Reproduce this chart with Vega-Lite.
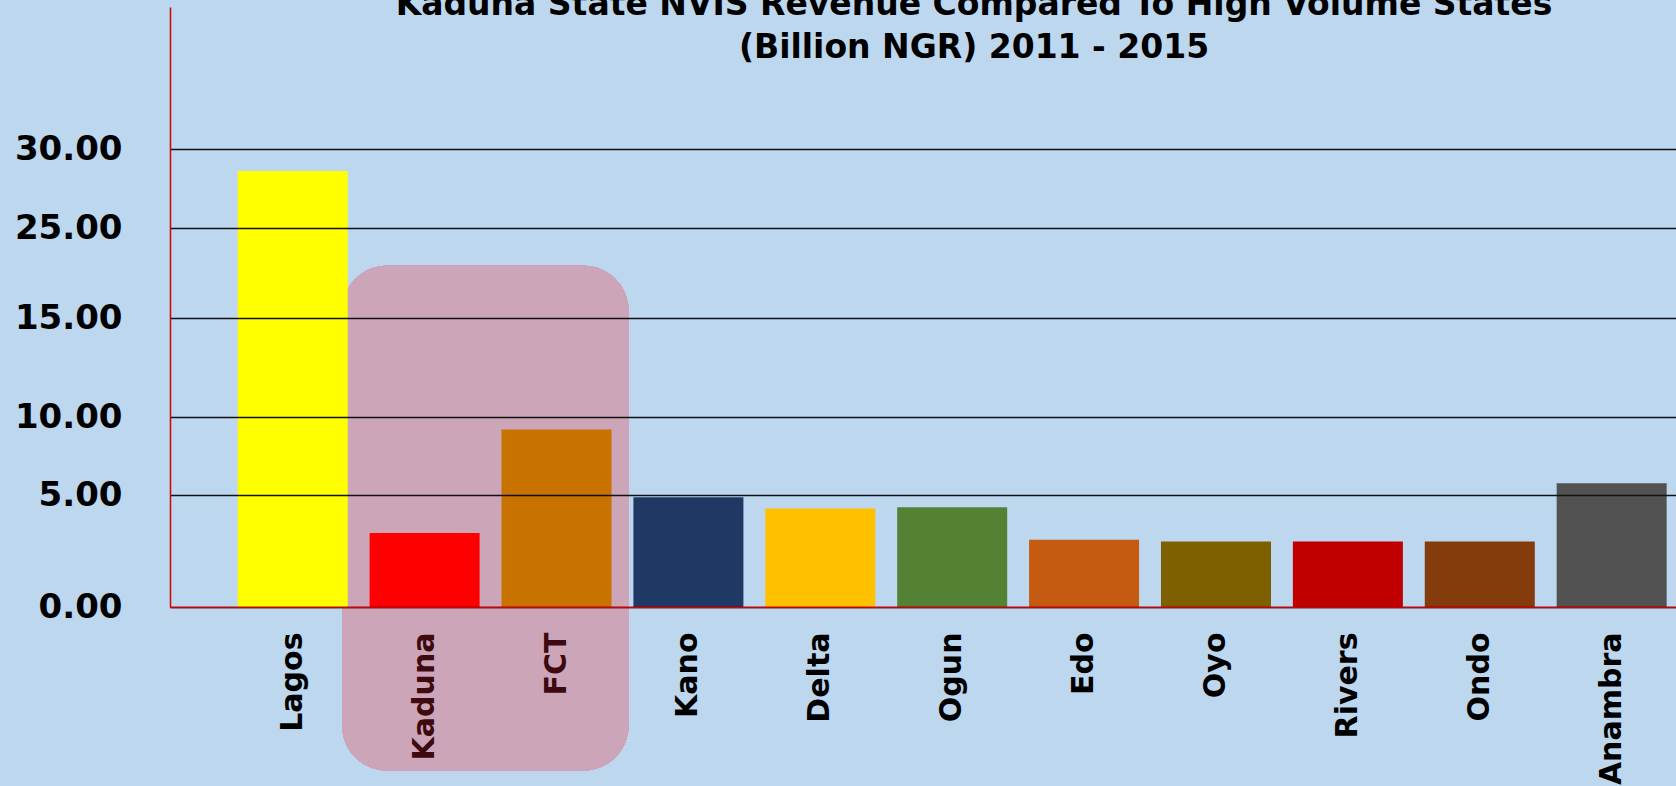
{
  "$schema": "https://vega.github.io/schema/vega-lite/v6.json",
  "width": 1506,
  "height": 600,
  "autosize": "none",
  "padding": {"left": 170, "top": 7, "right": 0, "bottom": 179},
  "background": "#BDD7EE",
  "config": {"view": {"stroke": null}},
  "title": {
    "text": ["Kaduna State NVIS Revenue Compared To High Volume States", "(Billion NGR) 2011 - 2015"],
    "font": "DejaVu Sans",
    "fontSize": 33,
    "fontWeight": "bold",
    "color": "black",
    "lineHeight": 43,
    "baseline": "top",
    "offset": 0,
    "dy": 58,
    "dx": 51,
    "anchor": "middle"
  },
  "data": {
    "values": [
      {"state": "Lagos", "revenue": 28.6},
      {"state": "Kaduna", "revenue": 3.3},
      {"state": "FCT", "revenue": 9.2},
      {"state": "Kano", "revenue": 4.9},
      {"state": "Delta", "revenue": 4.4},
      {"state": "Ogun", "revenue": 4.45},
      {"state": "Edo", "revenue": 3.0},
      {"state": "Oyo", "revenue": 2.92},
      {"state": "Rivers", "revenue": 2.92},
      {"state": "Ondo", "revenue": 2.92},
      {"state": "Anambra", "revenue": 5.75}
    ]
  },
  "layer": [
    {
      "mark": {"type": "rect", "color": "#CDA4B9", "opacity": 0.85, "cornerRadius": 45},
      "encoding": {
        "x": {"datum": "Kaduna", "bandPosition": -0.25},
        "x2": {"datum": "FCT", "bandPosition": 1.155},
        "y": {"datum": 20.8},
        "y2": {"datum": -7.3}
      }
    },
    {
      "mark": {"type": "bar"},
      "encoding": {
        "x": {
          "field": "state",
          "type": "nominal",
          "sort": null,
          "scale": {
            "domain": ["Lagos", "Kaduna", "FCT", "Kano", "Delta", "Ogun", "Edo", "Oyo", "Rivers", "Ondo", "Anambra"],
            "paddingInner": 0.166,
            "paddingOuter": 0.292,
            "align": 0.879
          },
          "axis": {
            "title": null,
            "labelAngle": -90,
            "labelFont": "DejaVu Sans",
            "labelFontSize": 30,
            "labelFontWeight": "bold",
            "labelColor": {"condition": {"test": "datum.value == 'Kaduna' || datum.value == 'FCT'", "value": "#3D0A10"}, "value": "black"},
            "labelPadding": 25,
            "ticks": false,
            "domainColor": "#D00000",
            "domainWidth": 1.5,
            "zindex": 1
          }
        },
        "y": {
          "field": "revenue",
          "type": "quantitative",
          "scale": {
            "domain": [0, 5, 10, 15, 25, 30, 40],
            "range": [600, 488, 410, 311, 221, 142, 0],
            "nice": false,
            "zero": false
          },
          "axis": {
            "title": null,
            "values": [0, 5, 10, 15, 25, 30],
            "format": ".2f",
            "labelFont": "DejaVu Sans",
            "labelFontSize": 34,
            "labelFontWeight": "bold",
            "labelColor": "black",
            "labelPadding": 48,
            "ticks": false,
            "grid": true,
            "gridColor": "#111111",
            "gridWidth": 1.3,
            "domainColor": "#D00000",
            "domainWidth": 1.5,
            "zindex": 1
          }
        },
        "y2": {"datum": 0},
        "color": {
          "field": "state",
          "type": "nominal",
          "scale": {
            "domain": ["Lagos", "Kaduna", "FCT", "Kano", "Delta", "Ogun", "Edo", "Oyo", "Rivers", "Ondo", "Anambra"],
            "range": ["#FFFF00", "#FF0000", "#C87200", "#203864", "#FFC000", "#548235", "#C55A11", "#7F6000", "#C00000", "#843C0C", "#525252"]
          },
          "legend": null
        }
      }
    }
  ]
}
